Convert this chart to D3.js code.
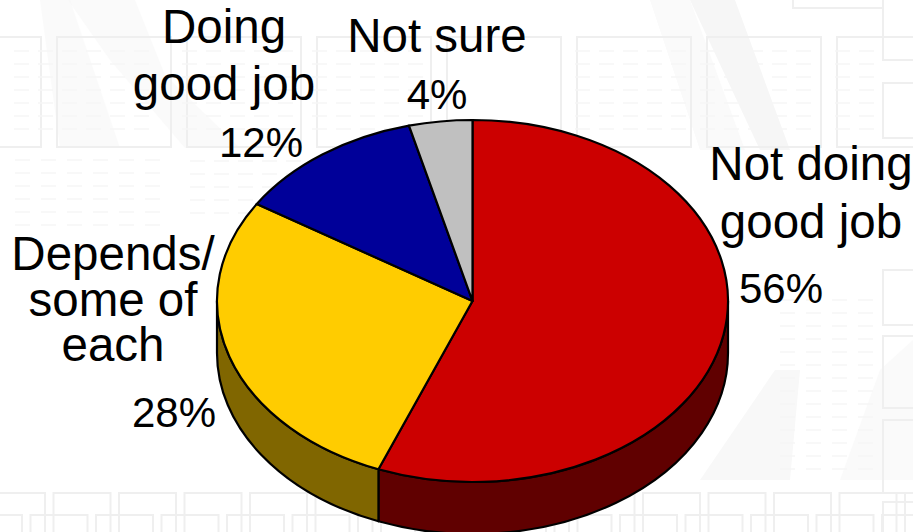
<!DOCTYPE html>
<html><head><meta charset="utf-8">
<script src="https://cdn.jsdelivr.net/npm/d3@7"></script>
<style>
html,body{margin:0;padding:0;background:#fff;overflow:hidden}
svg{display:block}
text{font-family:"Liberation Sans",Arial,sans-serif;fill:#000;text-anchor:middle}
</style></head><body><svg id="c" width="913" height="532"></svg>
<script>
// ---- data
const categories = ["Not doing good job","Depends/ some of each","Doing good job","Not sure"];
const values = [56,28,12,4];
const valueLabels = ["56%","28%","12%","4%"];
const topColors = ["#cc0000","#ffcc00","#000099","#c0c0c0"];
const wallColors = ["#600000","#806600","#000066","#808080"];

// ---- layout
const W=913,H=532,cx=472.5,cy=301,rx=255.5,ry=181,depth=52;
const labelLines = [
 [["Not doing",811,180],["good job",811,238]],
 [["Depends/",113,270],["some of",113,316],["each",113,361]],
 [["Doing",224,43],["good job",224,100]],
 [["Not sure",437,52]]
];
const valuePos = [[781,303],[174,427],[261,157],[437,109]];

const svg=d3.select("#c");

// ---- faint watermark background
const bg=svg.append("g").attr("fill","none").attr("stroke","#efefef").attr("stroke-width",2);
const shade=bg.append("g").attr("stroke","none");
shade.append("path").attr("d","M68,0 L135,0 L165,75 L240,148 L185,148 L110,60Z").attr("fill","#fafafa");
shade.append("path").attr("d","M70,0 L40,0 L60,148 L120,148Z").attr("fill","#f6f6f6").attr("opacity",.5);
shade.append("path").attr("d","M690,0 L735,0 L790,150 L760,150Z").attr("fill","#f6f6f6");
shade.append("path").attr("d","M650,0 L690,0 L745,150 L700,150Z").attr("fill","#fafafa");
shade.append("path").attr("d","M700,480 L775,370 L800,370 L790,480Z").attr("fill","#f8f8f8");
shade.append("path").attr("d","M840,480 L880,370 L913,340 L913,480Z").attr("fill","#fafafa");
shade.append("rect").attr("x",630).attr("y",210).attr("width",30).attr("height",40).attr("fill","#f8f8f8");
const topRow=d3.range(-73,900,130);
bg.selectAll("rect.t").data(topRow).join("rect").attr("class","t")
  .attr("x",d=>d).attr("y",37).attr("width",114).attr("height",110);
const rowA=d3.range(-12,913,65.5), rowB=d3.range(-35,913,65.5);
bg.selectAll("rect.a").data(rowA).join("rect").attr("class","a")
  .attr("x",d=>d).attr("y",493).attr("width",57).attr("height",60);
bg.selectAll("rect.b").data(rowB).join("rect").attr("class","b")
  .attr("x",d=>d).attr("y",515).attr("width",57).attr("height",40);
const rightCol=[[-10,70],[83,55],[270,55],[336,72],[420,73],[502,40]];
bg.selectAll("rect.r").data(rightCol).join("rect").attr("class","r")
  .attr("x",883).attr("y",d=>d[0]).attr("width",50).attr("height",d=>d[1]);
bg.append("rect").attr("x",793).attr("y",-10).attr("width",90).attr("height",18);
const textRows=[];
[[14,155],[182,290],[312,420],[190,300],[575,680],[700,800],[835,875]].forEach((r,i)=>{
  const y0=i==3?155:45, y1=i==3?215:140;
  for(let y=y0+6;y<y1;y+=13) for(let x=r[0];x<r[1];x+=24) textRows.push([x,y]);
});
[[15,150,160,230],[780,860,300,470]].forEach(b=>{
  for(let y=b[2];y<b[3];y+=13) for(let x=b[0];x<b[1];x+=26) textRows.push([x,y]);
});
bg.append("g").attr("stroke","#f6f6f6").attr("stroke-width",1.5)
 .selectAll("line").data(textRows).join("line")
 .attr("x1",d=>d[0]).attr("x2",d=>d[0]+15).attr("y1",d=>d[1]).attr("y2",d=>d[1]);

// ---- pie
const arcs=d3.pie().sort(null).value(d=>d)(values);
const px=a=>cx+rx*Math.sin(a), py=a=>cy-ry*Math.cos(a);

// side wall: only the front half of the ellipse is visible
const wallGroup=svg.append("g");
const fr0=Math.PI/2, fr1=3*Math.PI/2;
arcs.forEach((d,i)=>{
  const a0=Math.max(d.startAngle,fr0), a1=Math.min(d.endAngle,fr1);
  if(a1<=a0) return;
  const p=`M${px(a0)},${py(a0)}`
   +`A${rx},${ry} 0 0 1 ${px(a1)},${py(a1)}`
   +`L${px(a1)},${py(a1)+depth}`
   +`A${rx},${ry} 0 0 0 ${px(a0)},${py(a0)+depth}Z`;
  wallGroup.append("path").attr("d",p).attr("fill",wallColors[i])
   .attr("stroke","#000").attr("stroke-width",2.2).attr("stroke-linejoin","round");
});

// top face: circular arcs squashed into an ellipse
const arc=d3.arc().innerRadius(0).outerRadius(rx);
const faceGroup=svg.append("g").attr("transform",`translate(${cx},${cy}) scale(1,${ry/rx})`);
faceGroup.selectAll("path").data(arcs).join("path")
  .attr("d",arc).attr("fill",(d,i)=>topColors[i])
  .attr("stroke","#000").attr("stroke-width",2.2).attr("stroke-linejoin","round")
  .attr("vector-effect","non-scaling-stroke");

// ---- labels: one text element per label, one tspan per line
const lab=svg.append("g");
labelLines.forEach(lines=>{
  const t=lab.append("text").attr("font-size",47.5);
  lines.forEach(l=>t.append("tspan").attr("x",l[1]).attr("y",l[2]).text(l[0]));
});
valueLabels.forEach((t,i)=>{
  lab.append("text").attr("x",valuePos[i][0]).attr("y",valuePos[i][1]).attr("font-size",42).text(t);
});
</script></body></html>
